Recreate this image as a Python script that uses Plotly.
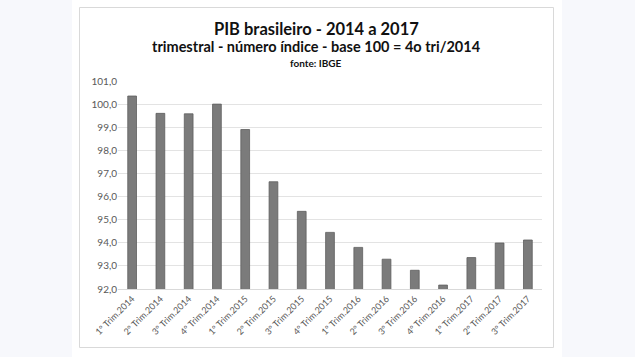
import plotly.graph_objects as go

categories = ["1º Trim.2014", "2º Trim.2014", "3º Trim.2014", "4º Trim.2014",
              "1º Trim.2015", "2º Trim.2015", "3º Trim.2015", "4º Trim.2015",
              "1º Trim.2016", "2º Trim.2016", "3º Trim.2016", "4º Trim.2016",
              "1º Trim.2017", "2º Trim.2017", "3º Trim.2017"]
values = [100.35, 99.6, 99.58, 100.0, 98.9, 96.64, 95.36, 94.45,
          93.8, 93.29, 92.81, 92.17, 93.36, 93.99, 94.12]
y_ticks = [92, 93, 94, 95, 96, 97, 98, 99, 100, 101]

W, H = 635, 357
L, R, T, B = 118, 542, 81, 289
pw, ph = R - L, B - T

def px(x):
    return (x - L) / pw

def py(y):
    return (B - y) / ph

fig = go.Figure(go.Bar(
    x=categories, y=values,
    marker=dict(color="#7b7b7b", line=dict(color="#5e5e5e", width=0.8)),
))

font_family = "Lato, 'Open Sans', sans-serif"

fig.update_layout(
    width=W, height=H,
    margin=dict(l=L, r=W - R, t=T, b=H - B, pad=0, autoexpand=False),
    paper_bgcolor="#f7f8fc",
    plot_bgcolor="#ffffff",
    separators=",.",
    bargap=0.69,
    showlegend=False,
    font=dict(family=font_family, color="#595959"),
    xaxis=dict(
        tickangle=-45, tickfont=dict(size=9, color="#595959"),
        showgrid=False, showline=True, linecolor="#d9d9d9", linewidth=1,
        ticks="", fixedrange=True, automargin=False,
    ),
    yaxis=dict(
        range=[92, 101], tickvals=y_ticks, tickformat=".1f",
        tickfont=dict(size=10, color="#595959"),
        showgrid=True, gridcolor="#e3e3e3", gridwidth=1,
        zeroline=False, showline=False, ticks="", fixedrange=True, automargin=False,
    ),
    shapes=[
        dict(type="rect", xref="paper", yref="paper",
             x0=px(72), x1=px(562), y0=py(H + 5), y1=py(-5),
             fillcolor="#ffffff", line=dict(width=0), layer="below"),
        dict(type="rect", xref="paper", yref="paper",
             x0=px(79.5), x1=px(553.5), y0=py(347.5), y1=py(7.5),
             fillcolor="rgba(0,0,0,0)", line=dict(color="#d9d9d9", width=1), layer="below"),
    ],
    annotations=[
        dict(text="<b>PIB brasileiro - 2014 a 2017</b>", xref="paper", yref="paper",
             x=px(316), y=py(29), showarrow=False, xanchor="center", yanchor="middle",
             font=dict(size=16.5, color="#111111", family=font_family)),
        dict(text="<b>trimestral - número índice - base 100 = 4o tri/2014</b>", xref="paper", yref="paper",
             x=px(316), y=py(47), showarrow=False, xanchor="center", yanchor="middle",
             font=dict(size=14.5, color="#111111", family=font_family)),
        dict(text="<b>fonte: IBGE</b>", xref="paper", yref="paper",
             x=px(316), y=py(63), showarrow=False, xanchor="center", yanchor="middle",
             font=dict(size=10, color="#111111", family=font_family)),
    ],
)

fig.write_html(
    "out.html",
    config={"displayModeBar": False},
    post_script="document.body.style.margin='0';document.body.style.overflow='hidden';"
                "document.body.style.background='#f7f8fc';",
)
